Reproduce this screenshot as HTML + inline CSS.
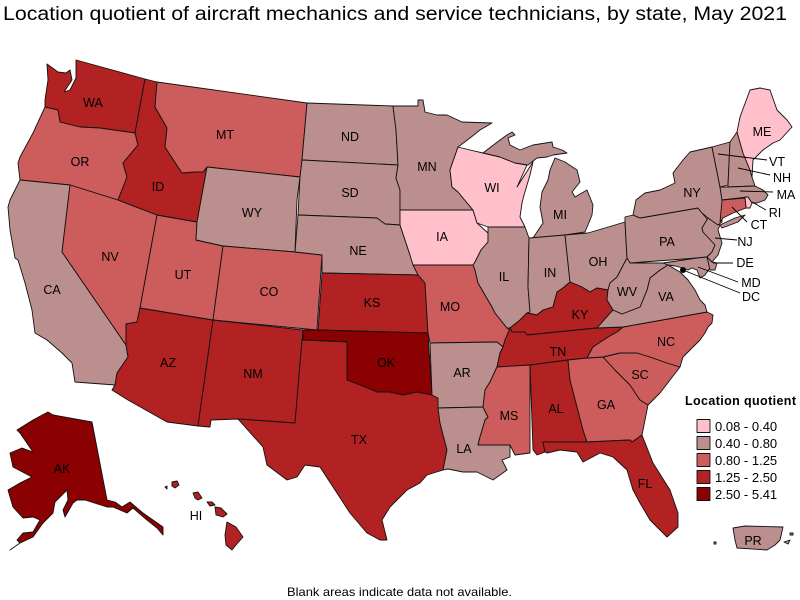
<!DOCTYPE html>
<html><head><meta charset="utf-8"><style>
html,body{margin:0;padding:0;background:#fff;}
svg{display:block;}
text{font-family:"Liberation Sans",Arial,sans-serif;fill:#000;}
.s{stroke:#111;stroke-width:0.9;stroke-linejoin:round;}
.P{fill:#FFC0CB}.R{fill:#BC8F8F}.I{fill:#CD5C5C}.F{fill:#B22222}.D{fill:#8B0000}
.l{font-size:12.5px;text-anchor:middle;}
.ld{stroke:#000;stroke-width:0.9;fill:none;}
</style></head><body>
<svg width="800" height="600" viewBox="0 0 800 600" xmlns="http://www.w3.org/2000/svg">
<text x="3" y="20" font-size="19" textLength="784" lengthAdjust="spacingAndGlyphs">Location quotient of aircraft mechanics and service technicians, by state, May 2021</text>
<g class="s">
<polygon class="F" points="47,64 58,72 66,73 70,70 72,80 64,92 70,90 76,78 76,60 145,79 135,133 100,128 80,127 60,122 58,110 45,107 45,100 48,80"/>
<polygon class="I" points="45,107 58,110 60,122 80,127 100,128 135,133 138,145 123,163 127,177 118,200 70,185 20,180 18,163 20,157 33,133"/>
<polygon class="R" points="20,180 70,185 62,252 126,345 128,357 117,373 115,385 75,382 72,363 62,353 47,340 35,333 33,318 32,310 25,283 22,273 18,260 15,258 10,230 8,207 10,200"/>
<polygon class="I" points="70,185 118,200 157,215 140,308 137,322 126,324 126,345 62,252"/>
<polygon class="F" points="140,308 213,320 198,426 167,422 128,400 112,390 115,385 117,373 128,357 126,345 126,324 137,322"/>
<polygon class="I" points="157,215 197,222 196,240 223,246 213,320 140,308"/>
<polygon class="F" points="145,79 157,82 155,107 167,128 165,147 178,167 182,173 195,172 203,172 207,167 197,222 157,215 118,200 127,177 123,163 138,145 135,133"/>
<polygon class="I" points="157,82 307,103 302,160 300,177 207,167 203,172 195,172 182,173 178,167 165,147 167,128 155,107"/>
<polygon class="R" points="207,167 300,177 297,200 295,252 223,246 196,240 197,222"/>
<polygon class="I" points="223,246 295,252 322,255 317,330 213,320"/>
<polygon class="F" points="213,320 303,330 302,340 295,423 238,419 211,420 210,427 198,426"/>
<polygon class="R" points="307,103 393,106 396,130 398,165 302,160"/>
<polygon class="R" points="302,160 398,165 396,178 400,190 400,225 385,224 377,218 298,215 300,177"/>
<polygon class="R" points="298,215 377,218 385,224 400,225 410,255 418,275 322,273 322,255 295,252"/>
<polygon class="F" points="322,273 418,275 425,283 428,333 318,330"/>
<polygon class="D" points="303,330 318,330 428,333 432,395 417,392 403,395 390,392 377,392 360,385 347,380 347,342 303,340"/>
<polygon class="F" points="303,340 347,342 347,380 360,385 377,392 390,392 403,395 417,392 432,395 438,398 440,423 447,450 443,470 427,475 420,483 407,490 390,507 382,520 387,540 380,540 367,533 350,513 335,490 320,467 305,465 297,477 287,480 267,465 263,447 238,419 295,423 302,340"/>
<polygon class="R" points="393,106 418,106 418,100 423,100 425,112 437,115 447,115 462,122 492,123 480,130 470,138 458,147 450,170 452,187 458,192 473,210 400,210 400,190 396,178 398,165 396,130"/>
<polygon class="P" points="400,210 473,210 477,223 488,233 488,242 481,250 475,262 473,265 413,265 410,255 400,225"/>
<polygon class="I" points="413,265 473,265 475,270 478,283 492,307 495,313 507,328 510,330 505,340 503,347 497,342 430,343 428,333 425,283 418,275"/>
<polygon class="R" points="430,343 497,342 503,347 500,353 497,367 490,382 485,390 483,407 438,408 438,398 432,395"/>
<polygon class="R" points="438,408 483,407 488,417 485,420 480,437 478,445 510,445 510,457 502,460 507,470 493,480 477,472 463,472 448,469 443,470 447,450 440,423"/>
<polygon class="P" points="458,147 470,150 483,153 500,157 515,163 527,165 517,187 533,162 530,175 524,195 522,203 520,217 525,227 488,227 477,223 473,210 458,192 452,187 450,170"/>
<polygon class="R" points="483,153 500,140 507,135 512,132 515,135 508,138 510,145 520,150 533,145 552,142 553,147 562,150 567,153 553,155 547,157 537,158 528,165 515,163 500,157"/>
<polygon class="R" points="555,158 565,162 577,170 580,182 572,192 575,197 587,190 593,205 592,215 585,232 565,235 533,238 535,235 543,223 540,207 542,192 548,180 550,170"/>
<polygon class="R" points="488,227 525,227 529,238 528,287 530,312 527,313 520,320 510,328 507,328 495,313 492,307 478,283 475,270 473,265 475,262 481,250 488,242 488,233"/>
<polygon class="R" points="529,238 565,235 570,282 563,288 557,292 553,307 543,310 537,315 527,313 530,312 528,287"/>
<polygon class="R" points="565,235 588,233 605,228 625,222 627,258 617,277 610,283 608,290 597,288 590,292 582,287 570,282"/>
<polygon class="F" points="527,313 537,315 543,310 553,307 557,292 563,288 570,282 582,287 590,292 597,288 608,290 607,300 613,310 597,328 527,335 525,332 512,332 510,328 520,320"/>
<polygon class="F" points="510,328 512,332 525,332 527,335 597,328 623,327 617,332 608,337 593,347 587,358 568,360 530,365 497,367 500,353 503,347 505,340"/>
<polygon class="I" points="497,367 530,365 530,453 515,455 510,445 478,445 480,437 485,420 488,417 483,407 485,390 490,382"/>
<polygon class="F" points="530,365 568,360 570,380 583,430 587,442 543,442 545,452 537,455 533,450"/>
<polygon class="I" points="568,360 587,358 603,357 615,370 630,385 640,400 648,405 645,420 642,435 632,442 630,440 587,442 583,430 570,380"/>
<polygon class="F" points="543,442 587,442 630,440 632,442 642,435 653,463 670,490 678,513 678,527 667,537 663,533 650,520 640,503 633,490 627,470 613,457 600,453 583,462 577,452 560,450 547,453 545,452"/>
<polygon class="I" points="603,357 620,353 637,353 650,357 667,363 680,367 670,380 660,393 648,405 640,400 630,385 615,370"/>
<polygon class="I" points="623,327 707,312 713,315 712,323 708,327 705,333 700,340 693,347 683,357 680,367 667,363 650,357 637,353 620,353 603,357 587,358 593,347 608,337 617,332"/>
<polygon class="R" points="597,328 613,310 622,314 640,307 647,290 650,278 660,270 668,265 680,272 688,280 695,290 700,300 705,305 707,312 623,327"/>
<polygon class="R" points="627,258 632,263 663,263 668,265 660,270 650,278 647,290 640,307 622,314 613,310 607,300 608,290 610,283 617,277"/>
<polygon class="R" points="625,222 625,217 633,215 640,218 698,208 702,213 708,220 702,228 703,232 712,240 715,245 712,252 707,257 697,258 630,263 627,258"/>
<polygon class="R" points="663,263 697,258 707,257 710,268 705,275 700,278 697,270 692,268 688,270 683,268 675,266 668,265"/>
<polygon class="R" points="707,257 712,262 717,263 715,270 710,270"/>
<polygon class="R" points="708,218 720,225 718,230 722,243 718,255 712,262 707,257 712,252 715,245 703,232 702,228"/>
<polygon class="R" points="633,215 636,200 645,193 660,190 675,183 673,173 683,160 690,152 712,147 720,187 722,200 722,222 718,225 708,218 702,213 698,208 640,218"/>
<polygon class="R" points="720,225 735,218 745,215 738,222 722,228"/>
<polygon class="R" points="712,147 730,142 728,185 720,187"/>
<polygon class="R" points="730,142 737,132 743,153 750,170 752,177 755,186 728,187 728,185"/>
<polygon class="P" points="737,132 740,117 750,90 760,88 770,90 777,110 787,120 792,127 780,140 773,143 763,150 753,160 752,177 750,170 743,153"/>
<polygon class="R" points="720,187 728,187 755,186 763,190 768,195 765,200 757,203 752,203 748,197 722,200"/>
<polygon class="P" points="745,197 748,197 752,203 750,208 746,208"/>
<polygon class="I" points="722,200 745,198 746,208 733,213 723,218 720,222"/>
<polygon class="D" points="17,430 33,420 48,412 53,415 92,422 107,500 115,502 122,507 130,502 143,513 163,527 163,535 157,528 147,520 133,508 127,513 120,510 113,507 107,507 85,500 77,500 73,503 65,517 63,510 68,500 67,490 55,502 53,513 43,523 33,537 20,543 10,550 20,543 17,540 23,533 33,532 40,520 33,517 23,518 13,507 8,490 20,483 32,477 13,467 10,453 22,448 33,452 20,433"/>
<polygon class="F" points="165,487 167,486 167,489"/>
<polygon class="F" points="172,482 177,481 179,485 175,488 172,486"/>
<polygon class="F" points="193,493 198,492 202,498 198,500 195,498"/>
<polygon class="F" points="207,502 212,502 215,505 210,506"/>
<polygon class="F" points="215,507 221,508 227,514 223,517 216,515"/>
<polygon class="F" points="227,522 236,527 243,537 236,545 232,550 226,545 225,535"/>
<polygon class="R" points="733,528 745,526 783,527 780,540 775,545 767,550 737,548 735,540"/>
<polygon class="R" points="714,542 716,542 716,544 714,544"/>
<polygon class="R" points="784,542 790,540 788,544"/>
<polygon class="R" points="790,533 793,533 793,535 790,535"/>
</g>
<circle cx="683" cy="270" r="3" fill="#000"/>
<g class="ld">
<line x1="718" y1="154" x2="767" y2="160"/>
<line x1="738" y1="168" x2="770" y2="175"/>
<line x1="740" y1="191" x2="773" y2="192"/>
<line x1="752" y1="202" x2="766" y2="210"/>
<line x1="732" y1="207" x2="747" y2="222"/>
<line x1="715" y1="238" x2="737" y2="240"/>
<line x1="713" y1="263" x2="733" y2="263"/>
<line x1="698" y1="267" x2="738" y2="282"/>
<line x1="683" y1="270" x2="740" y2="293"/>
</g>
<g class="l">
<text x="93" y="107">WA</text>
<text x="225" y="139">MT</text>
<text x="350" y="141">ND</text>
<text x="80" y="166">OR</text>
<text x="158" y="191">ID</text>
<text x="350" y="197">SD</text>
<text x="427" y="171">MN</text>
<text x="492" y="192">WI</text>
<text x="762" y="136">ME</text>
<text x="777" y="166">VT</text>
<text x="782" y="182">NH</text>
<text x="786" y="199">MA</text>
<text x="775" y="217">RI</text>
<text x="759" y="229">CT</text>
<text x="745" y="246">NJ</text>
<text x="745" y="267">DE</text>
<text x="751" y="287">MD</text>
<text x="751" y="301">DC</text>
<text x="692" y="197">NY</text>
<text x="667" y="246">PA</text>
<text x="598" y="266">OH</text>
<text x="627" y="296">WV</text>
<text x="666" y="301">VA</text>
<text x="580" y="319">KY</text>
<text x="550" y="277">IN</text>
<text x="504" y="281">IL</text>
<text x="560" y="219">MI</text>
<text x="442" y="241">IA</text>
<text x="450" y="311">MO</text>
<text x="358" y="255">NE</text>
<text x="252" y="217">WY</text>
<text x="110" y="261">NV</text>
<text x="183" y="279">UT</text>
<text x="269" y="296">CO</text>
<text x="372" y="307">KS</text>
<text x="52" y="294">CA</text>
<text x="168" y="367">AZ</text>
<text x="253" y="378">NM</text>
<text x="386" y="367">OK</text>
<text x="359" y="444">TX</text>
<text x="462" y="377">AR</text>
<text x="558" y="356">TN</text>
<text x="666" y="346">NC</text>
<text x="640" y="379">SC</text>
<text x="606" y="409">GA</text>
<text x="556" y="413">AL</text>
<text x="509" y="420">MS</text>
<text x="464" y="453">LA</text>
<text x="645" y="488">FL</text>
<text x="62" y="473">AK</text>
<text x="196" y="520">HI</text>
<text x="753" y="545">PR</text>
</g>
<text x="685" y="405" font-size="12.5" font-weight="bold" textLength="111" lengthAdjust="spacing">Location quotient</text>
<g class="s">
<rect x="697" y="419.5" width="13" height="13" class="P"/>
<rect x="697" y="436.5" width="13" height="13" class="R"/>
<rect x="697" y="453.5" width="13" height="13" class="I"/>
<rect x="697" y="470.5" width="13" height="13" class="F"/>
<rect x="697" y="487.5" width="13" height="13" class="D"/>
</g>
<g font-size="13">
<text x="715" y="431">0.08 - 0.40</text>
<text x="715" y="448">0.40 - 0.80</text>
<text x="715" y="465">0.80 - 1.25</text>
<text x="715" y="482">1.25 - 2.50</text>
<text x="715" y="499">2.50 - 5.41</text>
</g>
<text x="287" y="596" font-size="12" textLength="225" lengthAdjust="spacingAndGlyphs">Blank areas indicate data not available.</text>
</svg>
</body></html>
